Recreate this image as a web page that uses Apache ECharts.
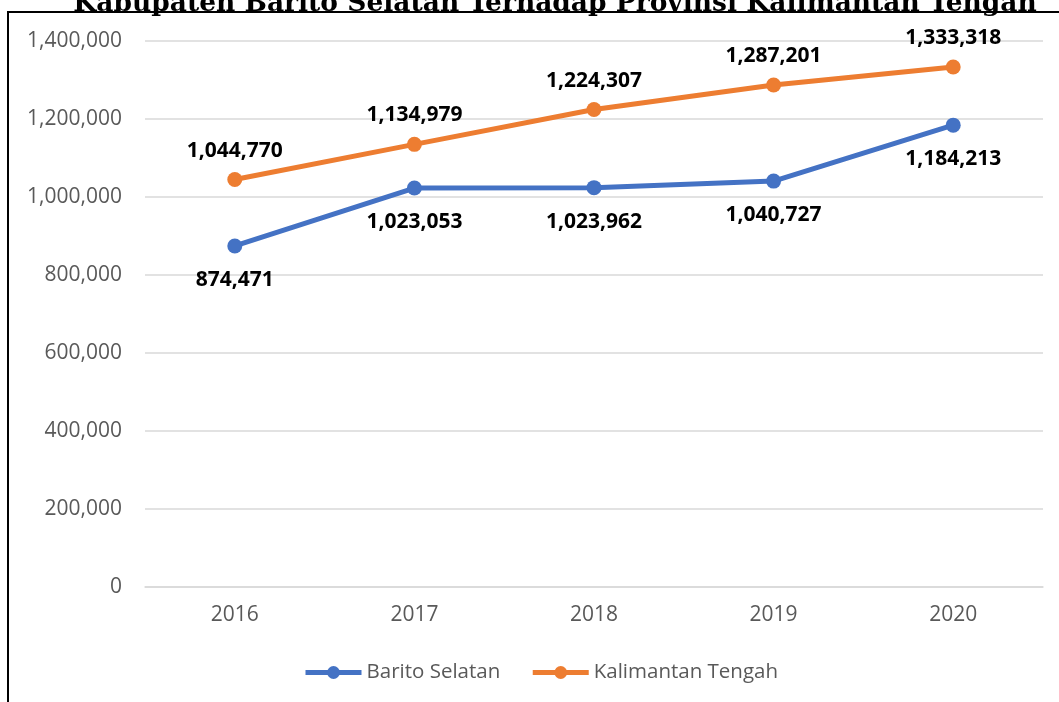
<!DOCTYPE html>
<html>
<head>
<meta charset="utf-8">
<script src="https://cdn.jsdelivr.net/npm/echarts@6/dist/echarts.min.js"></script>
<style>
  html, body { margin: 0; padding: 0; background: #fff; }
  #chart { width: 1059px; height: 702px; }
</style>
</head>
<body>
<div id="chart"></div>
<script>
// Population data, 2016–2020
const years = ['2016', '2017', '2018', '2019', '2020'];
const baritoSelatan = [874471, 1023053, 1023962, 1040727, 1184213];
const kalimantanTengah = [1044770, 1134979, 1224307, 1287201, 1333318];
const seriesNames = ['Barito Selatan', 'Kalimantan Tengah'];
const titleText = 'Kabupaten Barito Selatan Terhadap Provinsi Kalimantan Tengah';

const fmt = v => v.toLocaleString('en-US');
const chart = echarts.init(document.getElementById('chart'), null, { renderer: 'canvas' });

const labelStyle = {
  show: true,
  fontFamily: 'Open Sans',
  fontWeight: 'bold',
  fontSize: 21,
  color: '#000',
  formatter: p => fmt(p.value)
};

chart.setOption({
  animation: false,
  backgroundColor: '#fff',
  graphic: [
    {
      type: 'rect',
      shape: { x: 8, y: 12, width: 1200, height: 900 },
      style: { fill: 'none', stroke: '#000', lineWidth: 2 },
      z: 10
    },
    {
      type: 'text',
      x: 555,
      y: 18,
      style: {
        text: titleText,
        fontFamily: 'DejaVu Serif',
        fontWeight: 'bold',
        fontSize: 26.5,
        fill: '#000',
        align: 'center',
        verticalAlign: 'bottom'
      },
      z: 11
    }
  ],
  grid: { left: 145, right: 16, top: 41, bottom: 115 },
  legend: {
    data: seriesNames,
    bottom: 14,
    left: 298,
    itemWidth: 56,
    itemHeight: 16,
    itemGap: 30,
    lineStyle: { width: 5 },
    textStyle: { fontFamily: 'Open Sans', fontSize: 20.5, color: '#595959' }
  },
  xAxis: {
    type: 'category',
    data: years,
    boundaryGap: true,
    axisLine: { lineStyle: { color: '#d9d9d9', width: 1.5 } },
    axisTick: { show: false },
    axisLabel: { fontFamily: 'Open Sans', fontSize: 21, color: '#595959', margin: 18 }
  },
  yAxis: {
    type: 'value',
    min: 0,
    max: 1400000,
    interval: 200000,
    axisLine: { show: false },
    axisTick: { show: false },
    splitLine: { lineStyle: { color: '#d9d9d9', width: 1.5 } },
    axisLabel: {
      fontFamily: 'Open Sans', fontSize: 21, color: '#595959', margin: 23,
      formatter: v => fmt(v)
    }
  },
  series: [
    {
      name: seriesNames[0],
      type: 'line',
      data: baritoSelatan,
      color: '#4472C4',
      lineStyle: { width: 5 },
      symbol: 'circle',
      symbolSize: 15,
      label: Object.assign({}, labelStyle, { position: 'bottom', distance: 16 })
    },
    {
      name: seriesNames[1],
      type: 'line',
      data: kalimantanTengah,
      color: '#ED7D31',
      lineStyle: { width: 5 },
      symbol: 'circle',
      symbolSize: 15,
      label: Object.assign({}, labelStyle, { position: 'top', distance: 11 })
    }
  ]
});
</script>
</body>
</html>
